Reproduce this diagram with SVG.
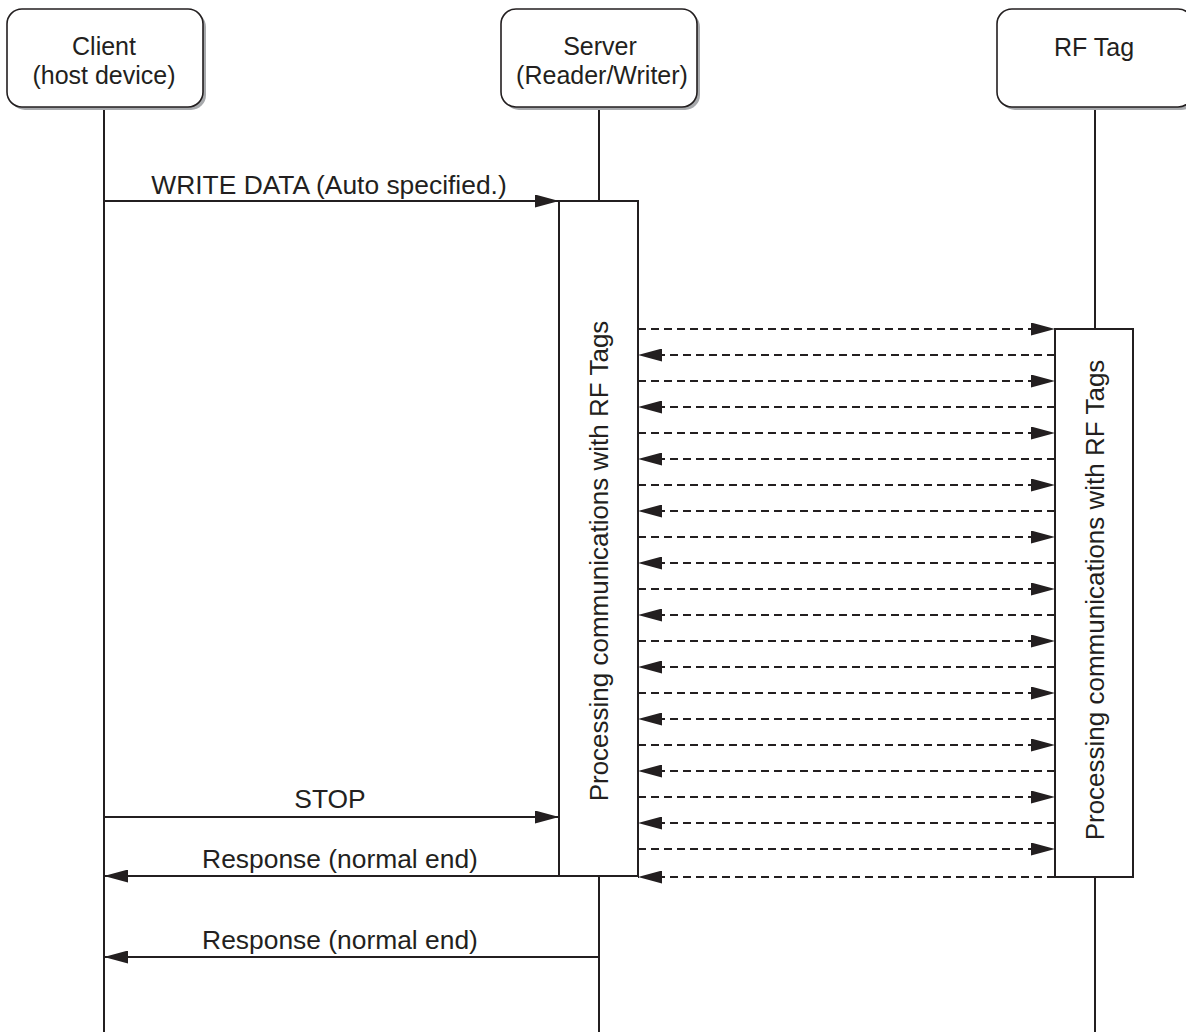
<svg xmlns="http://www.w3.org/2000/svg" width="1186" height="1032" viewBox="0 0 1186 1032">
<style>
.box{fill:#fff;stroke:#231f20;stroke-width:1.6}
.shadow{fill:#a7a9ac}
.life{stroke:#231f20;stroke-width:2;fill:none}
.act{fill:#fff;stroke:#231f20;stroke-width:2}
.msg{stroke:#231f20;stroke-width:2;fill:none}
.dash{stroke:#231f20;stroke-width:2;fill:none;stroke-dasharray:8 5}
text{font-family:"Liberation Sans",Arial,sans-serif;fill:#231f20}
.t{font-size:25px;text-anchor:middle}
.l{font-size:26.4px;text-anchor:middle}
.v{font-size:26px;text-anchor:middle}
</style>
<defs>
<marker id="ah" viewBox="0 0 24 13" refX="24" refY="6.5" markerWidth="24" markerHeight="13" markerUnits="userSpaceOnUse" orient="auto">
<path d="M0,0 L24,6.5 L0,13 z" fill="#231f20"/>
</marker>
</defs>
<rect width="1186" height="1032" fill="#fff"/>

<g id="lifelines">
<line class="life" x1="104" y1="107" x2="104" y2="1032"/>
<line class="life" x1="599" y1="107" x2="599" y2="201"/>
<line class="life" x1="599" y1="876" x2="599" y2="1032"/>
<line class="life" x1="1095" y1="107" x2="1095" y2="329"/>
<line class="life" x1="1095" y1="877" x2="1095" y2="1032"/>
</g>

<g id="client">
<rect class="shadow" x="10" y="12" width="196" height="98" rx="15"/>
<rect class="box" x="7" y="9" width="196" height="98" rx="15"/>
<text class="t" x="104" y="55">Client</text>
<text class="t" x="104" y="84">(host device)</text>
</g>

<g id="server">
<rect class="shadow" x="504" y="12" width="196" height="98" rx="15"/>
<rect class="box" x="501" y="9" width="196" height="98" rx="15"/>
<text class="t" x="600" y="55">Server</text>
<text class="t" x="602" y="84">(Reader/Writer)</text>
</g>

<g id="rftag">
<rect class="shadow" x="1000" y="12" width="196" height="98" rx="15"/>
<rect class="box" x="997" y="9" width="196" height="98" rx="15"/>
<text class="t" x="1094" y="56">RF Tag</text>
</g>

<g id="server-activation">
<rect class="act" x="559" y="201" width="79" height="675"/>
<text class="v" transform="translate(608,561) rotate(-90)">Processing communications with RF Tags</text>
</g>

<g id="rftag-activation">
<rect class="act" x="1055" y="329" width="78" height="548"/>
<text class="v" transform="translate(1104,600) rotate(-90)">Processing communications with RF Tags</text>
</g>

<g id="connectors">
<line class="msg" x1="104" y1="201" x2="559" y2="201" marker-end="url(#ah)"/>
<text class="l" x="329" y="194">WRITE DATA (Auto specified.)</text>
<line class="msg" x1="104" y1="817" x2="559" y2="817" marker-end="url(#ah)"/>
<text class="l" x="330" y="808">STOP</text>
<line class="msg" x1="638" y1="876" x2="104" y2="876" marker-end="url(#ah)"/>
<text class="l" x="340" y="868">Response (normal end)</text>
<line class="msg" x1="599" y1="957" x2="104" y2="957" marker-end="url(#ah)"/>
<text class="l" x="340" y="949">Response (normal end)</text>

<line class="dash" x1="638" y1="329" x2="1055" y2="329" marker-end="url(#ah)"/>
<line class="dash" x1="1055" y1="355" x2="638" y2="355" marker-end="url(#ah)"/>
<line class="dash" x1="638" y1="381" x2="1055" y2="381" marker-end="url(#ah)"/>
<line class="dash" x1="1055" y1="407" x2="638" y2="407" marker-end="url(#ah)"/>
<line class="dash" x1="638" y1="433" x2="1055" y2="433" marker-end="url(#ah)"/>
<line class="dash" x1="1055" y1="459" x2="638" y2="459" marker-end="url(#ah)"/>
<line class="dash" x1="638" y1="485" x2="1055" y2="485" marker-end="url(#ah)"/>
<line class="dash" x1="1055" y1="511" x2="638" y2="511" marker-end="url(#ah)"/>
<line class="dash" x1="638" y1="537" x2="1055" y2="537" marker-end="url(#ah)"/>
<line class="dash" x1="1055" y1="563" x2="638" y2="563" marker-end="url(#ah)"/>
<line class="dash" x1="638" y1="589" x2="1055" y2="589" marker-end="url(#ah)"/>
<line class="dash" x1="1055" y1="615" x2="638" y2="615" marker-end="url(#ah)"/>
<line class="dash" x1="638" y1="641" x2="1055" y2="641" marker-end="url(#ah)"/>
<line class="dash" x1="1055" y1="667" x2="638" y2="667" marker-end="url(#ah)"/>
<line class="dash" x1="638" y1="693" x2="1055" y2="693" marker-end="url(#ah)"/>
<line class="dash" x1="1055" y1="719" x2="638" y2="719" marker-end="url(#ah)"/>
<line class="dash" x1="638" y1="745" x2="1055" y2="745" marker-end="url(#ah)"/>
<line class="dash" x1="1055" y1="771" x2="638" y2="771" marker-end="url(#ah)"/>
<line class="dash" x1="638" y1="797" x2="1055" y2="797" marker-end="url(#ah)"/>
<line class="dash" x1="1055" y1="823" x2="638" y2="823" marker-end="url(#ah)"/>
<line class="dash" x1="638" y1="849" x2="1055" y2="849" marker-end="url(#ah)"/>
<line class="dash" x1="1055" y1="877" x2="638" y2="877" marker-end="url(#ah)"/>
</g>
</svg>
